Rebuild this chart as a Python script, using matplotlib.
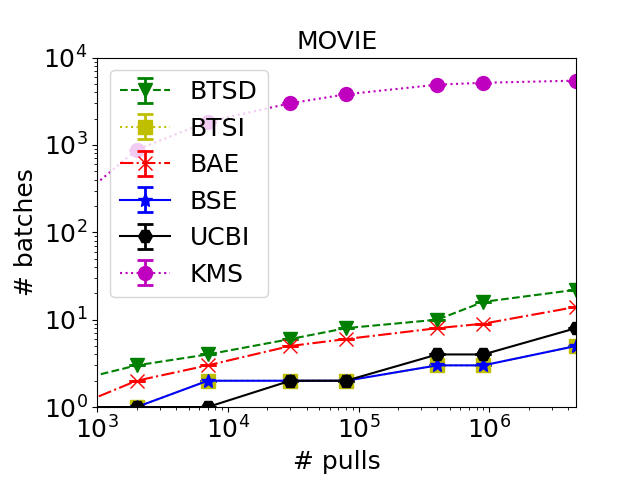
import numpy as np
import matplotlib.pyplot as plt

pulls = [500, 2000, 7000, 30000, 80000, 400000, 900000, 4.6e6]

btsd = [1.8, 3, 4, 6, 8, 10, 16, 22]
btsi = [1, 1, 2, 2, 2, 3, 3, 5]
bae = [0.85, 2, 3, 5, 6, 8, 9, 14]
bse = [1, 1, 2, 2, 2, 3, 3, 5]
ucbi = [1, 1, 1, 2, 2, 4, 4, 8]
kms = [155, 880, 1850, 3000, 3800, 4900, 5150, 5450]

series = [
    ('BTSD', btsd, 'g', 'v', '--'),
    ('BTSI', btsi, 'y', 's', ':'),
    ('BAE', bae, 'r', 'x', '-.'),
    ('BSE', bse, 'b', '*', '-'),
    ('UCBI', ucbi, 'k', 'H', '-'),
    ('KMS', kms, 'm', 'o', ':'),
]

plt.rcParams['font.size'] = 18
fig, ax = plt.subplots(figsize=(6.4, 4.8), dpi=100)

for name, vals, col, mk, ls in series:
    ax.errorbar(pulls, vals, yerr=np.zeros(len(vals)), color=col, marker=mk,
                linestyle=ls, markersize=10, capsize=6, capthick=2,
                elinewidth=2, label=name)

ax.set_xscale('log')
ax.set_yscale('log')
ax.set_xlim(1e3, 4.6e6)
ax.set_ylim(1, 1e4)
ax.set_xlabel('# pulls')
ax.set_ylabel('# batches')
ax.set_title('MOVIE', fontsize=18)
ax.legend(loc='upper left', fontsize=18)

plt.subplots_adjust(left=0.152, right=0.9, bottom=0.152, top=0.88)
plt.savefig('out.png')
